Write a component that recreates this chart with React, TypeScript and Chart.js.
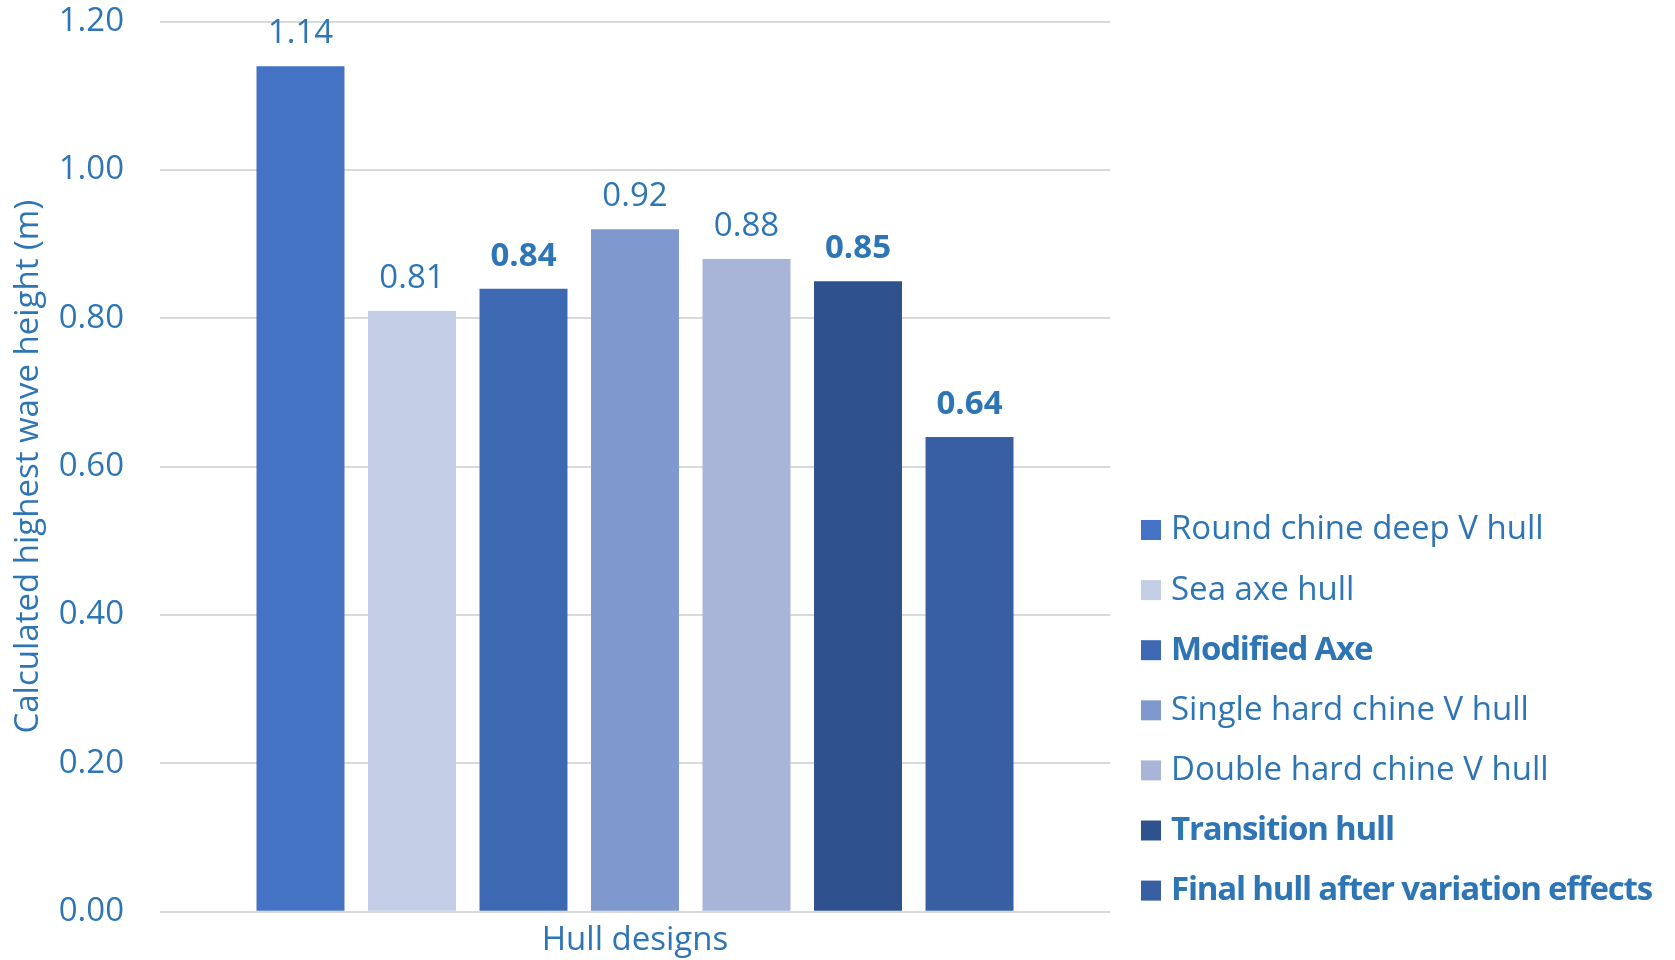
import React, { useEffect, useRef } from "react";
import { Chart, registerables } from "chart.js";

Chart.register(...registerables);

const categories = [""];
const seriesNames = [
  "Round chine deep V hull",
  "Sea axe hull",
  "Modified Axe",
  "Single hard chine V hull",
  "Double hard chine V hull",
  "Transition hull",
  "Final hull after variation effects",
];
const seriesValues = [1.14, 0.81, 0.84, 0.92, 0.88, 0.85, 0.64];
const seriesColors = ["#4472C4", "#C3CDE6", "#3D69B3", "#7F98CD", "#A8B5D9", "#2F528F", "#385FA3"];
const boldSeries = [false, false, true, false, false, true, true];
const yMin = 0;
const yMax = 1.2;
const yStep = 0.2;
const yTitle = "Calculated highest wave height (m)";
const xTitle = "Hull designs";

const FONT = "'Open Sans', sans-serif";
const TEXT = "#2E75B6";
const FS = 33;

const legendLayout = { boxX: 1141, textX: 1171, firstY: 530, gap: 60.1, box: 20 };

const overlayPlugin = {
  id: "overlay",
  afterDatasetsDraw(chart: any) {
    const ctx = chart.ctx;
    ctx.save();
    ctx.fillStyle = TEXT;
    ctx.textAlign = "center";
    ctx.textBaseline = "alphabetic";
    chart.data.datasets.forEach((ds: any, i: number) => {
      const meta = chart.getDatasetMeta(i);
      meta.data.forEach((bar: any, j: number) => {
        const v = ds.data[j];
        ctx.font = `${boldSeries[i] ? "bold " : ""}${FS}px ${FONT}`;
        ctx.fillText(Number(v).toFixed(2), bar.x, bar.y - 23);
      });
    });
    ctx.restore();
  },
  afterDraw(chart: any) {
    const ctx = chart.ctx;
    ctx.save();
    ctx.textAlign = "left";
    ctx.textBaseline = "middle";
    chart.data.datasets.forEach((ds: any, i: number) => {
      const cy = legendLayout.firstY + i * legendLayout.gap;
      ctx.fillStyle = ds.backgroundColor;
      ctx.fillRect(legendLayout.boxX, cy - legendLayout.box / 2, legendLayout.box, legendLayout.box);
      ctx.fillStyle = TEXT;
      ctx.font = `${boldSeries[i] ? "bold " : ""}${FS}px ${FONT}`;
      (ctx as any).letterSpacing = boldSeries[i] ? "-1.2px" : "0px";
      ctx.fillText(ds.label, legendLayout.textX, cy);
    });
    (ctx as any).letterSpacing = "0px";
    ctx.restore();
  },
};

export default function App() {
  const ref = useRef<HTMLCanvasElement>(null);
  useEffect(() => {
    if (!ref.current) return;
    const chart = new Chart(ref.current, {
      type: "bar",
      data: {
        labels: categories,
        datasets: seriesNames.map((name, i) => ({
          label: name,
          data: [seriesValues[i]],
          backgroundColor: seriesColors[i],
          borderWidth: 0,
          categoryPercentage: 0.8216,
          barPercentage: 0.789,
        })),
      },
      options: {
        animation: false,
        responsive: false,
        maintainAspectRatio: false,
        layout: { padding: { top: 21.7, right: 565, bottom: 0, left: 0 } },
        plugins: {
          legend: { display: false },
          tooltip: { enabled: false },
        },
        scales: {
          x: {
            grid: { display: false },
            border: { display: false },
            ticks: { display: false },
            title: {
              display: true,
              text: xTitle,
              color: TEXT,
              font: { family: FONT, size: FS },
              padding: { top: 0, bottom: 0 },
            },
            afterFit: (s: any) => {
              s.height = 48.3;
              s.paddingLeft = 0;
              s.paddingRight = 0;
            },
          },
          y: {
            min: yMin,
            max: yMax,
            border: { display: false },
            grid: { color: "#D9D9D9", lineWidth: 2, drawTicks: false },
            ticks: {
              stepSize: yStep,
              padding: 36,
              color: TEXT,
              font: { family: FONT, size: FS },
              callback: (v: any) => Number(v).toFixed(2),
            },
            title: {
              display: true,
              text: yTitle,
              color: TEXT,
              font: { family: FONT, size: FS },
              padding: { top: 9, bottom: 0 },
            },
            afterFit: (s: any) => {
              s.width = 160;
              s.paddingTop = 0;
              s.paddingBottom = 0;
            },
          },
        },
      },
      plugins: [overlayPlugin],
    });
    return () => chart.destroy();
  }, []);
  return (
    <div style={{ position: "absolute", left: 0, top: 0, width: 1675, height: 960, background: "#fff" }}>
      <canvas ref={ref} width={1675} height={960} style={{ display: "block" }} />
    </div>
  );
}
